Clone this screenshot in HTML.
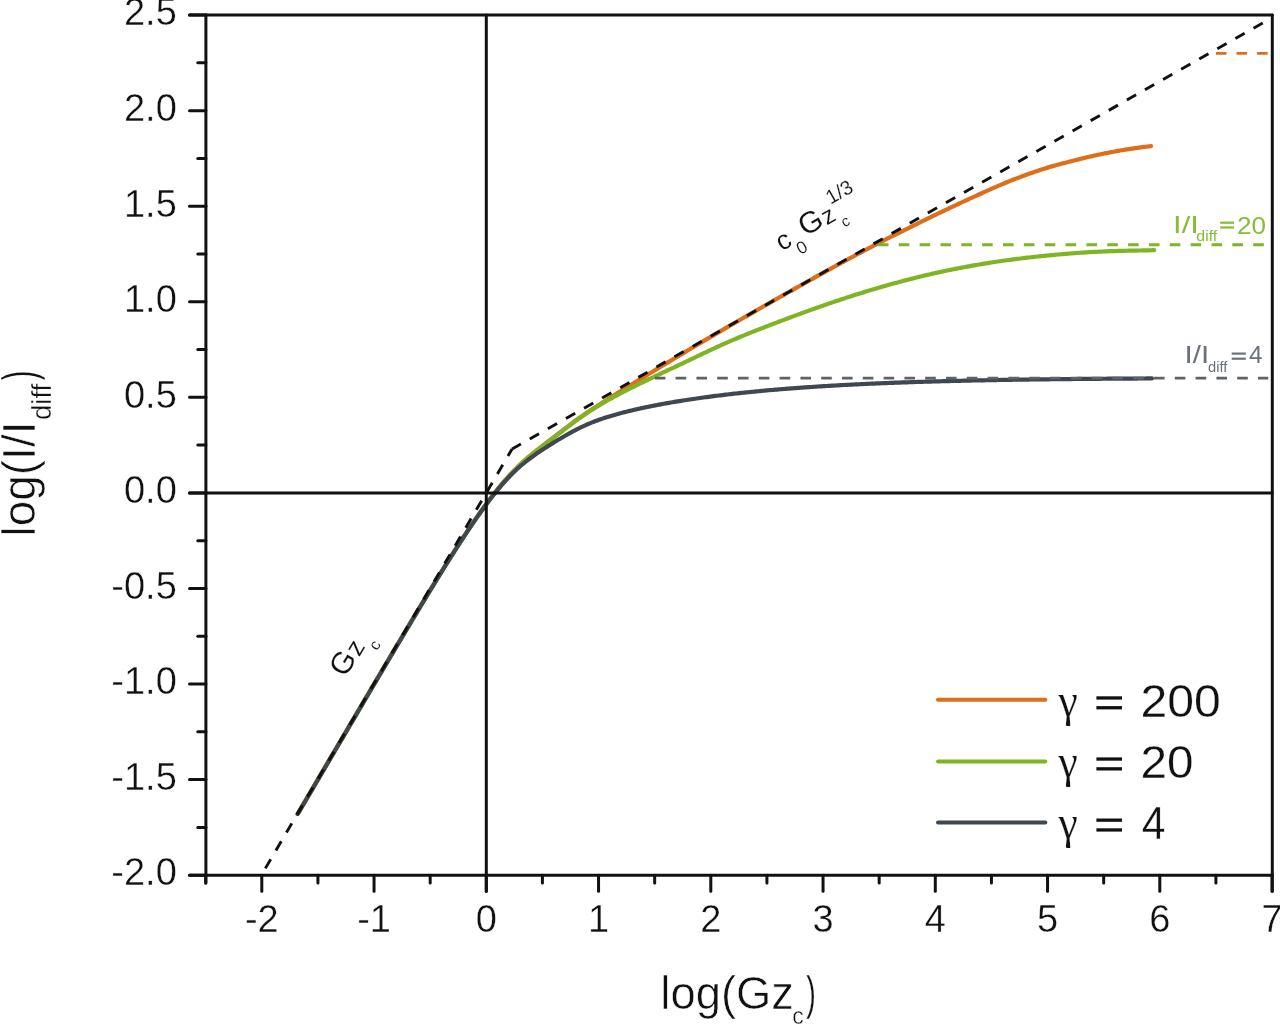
<!DOCTYPE html>
<html><head><meta charset="utf-8"><style>
html,body{margin:0;padding:0;background:#fff;width:1280px;height:1026px;overflow:hidden}
svg{display:block;filter:blur(0.55px)}
</style></head><body>
<svg width="1280" height="1026" viewBox="0 0 1280 1026">
<rect width="1280" height="1026" fill="#fff"/>
<path d="M297.72,813.64 L299.43,810.73 L301.14,807.82 L302.85,804.91 L304.56,802.00 L306.27,799.09 L307.98,796.18 L309.69,793.27 L311.40,790.36 L313.11,787.46 L314.82,784.55 L316.53,781.64 L318.24,778.73 L319.95,775.82 L321.66,772.91 L323.37,770.00 L325.08,767.09 L326.79,764.19 L328.50,761.28 L330.21,758.37 L331.92,755.46 L333.63,752.56 L335.34,749.65 L337.05,746.74 L338.76,743.83 L340.47,740.93 L342.18,738.02 L343.89,735.12 L345.60,732.21 L347.31,729.31 L349.02,726.40 L350.73,723.50 L352.44,720.60 L354.15,717.69 L355.86,714.79 L357.57,711.89 L359.28,708.99 L360.99,706.09 L362.70,703.18 L364.41,700.29 L366.12,697.39 L367.83,694.49 L369.54,691.59 L371.25,688.69 L372.96,685.80 L374.67,682.90 L376.38,680.01 L378.09,677.12 L379.80,674.22 L381.51,671.33 L383.22,668.44 L384.93,665.55 L386.64,662.67 L388.35,659.78 L390.06,656.90 L391.77,654.01 L393.48,651.13 L395.19,648.25 L396.90,645.38 L398.61,642.50 L400.32,639.63 L402.03,636.76 L403.74,633.89 L405.45,631.02 L407.16,628.16 L408.87,625.30 L410.58,622.44 L412.29,619.59 L414.00,616.73 L415.71,613.89 L417.42,611.04 L419.13,608.20 L420.84,605.37 L422.56,602.53 L424.27,599.71 L425.98,596.88 L427.69,594.07 L429.40,591.25 L431.11,588.45 L432.82,585.65 L434.53,582.85 L436.24,580.07 L437.95,577.29 L439.66,574.51 L441.37,571.75 L443.08,568.99 L444.79,566.25 L446.50,563.51 L448.21,560.78 L449.92,558.06 L451.63,555.35 L453.34,552.66 L455.05,549.97 L456.76,547.30 L458.47,544.64 L460.18,541.99 L461.89,539.36 L463.60,536.75 L465.31,534.14 L467.02,531.56 L468.73,528.99 L470.44,526.44 L472.15,523.91 L473.86,521.40 L475.57,518.91 L477.28,516.45 L478.99,514.00 L480.70,511.58 L482.41,509.18 L484.12,506.81 L485.83,504.46 L487.54,502.14 L489.25,499.85 L490.96,497.59 L492.67,495.36 L494.38,493.16 L496.09,491.00 L497.80,488.87 L499.51,486.77 L501.22,484.71 L502.93,482.69 L504.64,480.71 L506.35,478.76 L508.06,476.86 L509.77,474.99 L511.48,473.16 L513.19,471.37 L514.90,469.62 L516.61,467.91 L518.32,466.24 L520.03,464.61 L521.74,463.01 L523.45,461.45 L525.16,459.92 L526.87,458.42 L528.58,456.95 L530.29,455.51 L532.00,454.10 L533.71,452.70 L535.42,451.33 L537.13,449.97 L538.84,448.63 L540.55,447.29 L542.26,445.97 L543.97,444.66 L545.68,443.35 L547.39,442.04 L549.10,440.74 L550.81,439.43 L552.52,438.13 L554.23,436.82 L555.94,435.52 L557.65,434.21 L559.36,432.90 L561.07,431.60 L562.78,430.29 L564.49,428.98 L566.20,427.68 L567.91,426.38 L569.62,425.09 L571.33,423.81 L573.04,422.53 L574.75,421.27 L576.46,420.02 L578.17,418.78 L579.88,417.56 L581.59,416.35 L583.30,415.15 L585.01,413.98 L586.72,412.82 L588.43,411.68 L590.14,410.55 L591.85,409.45 L593.56,408.36 L595.27,407.29 L596.98,406.24 L598.69,405.10 L600.40,403.98 L602.11,402.86 L603.82,401.75 L605.53,400.66 L607.24,399.56 L608.95,398.48 L610.66,397.40 L612.37,396.33 L614.08,395.26 L615.79,394.20 L617.50,393.14 L619.21,392.08 L620.92,391.03 L622.63,389.97 L624.34,388.92 L626.05,387.88 L627.76,386.83 L629.47,385.78 L631.18,384.74 L632.89,383.69 L634.60,382.65 L636.31,381.60 L638.02,380.56 L639.73,379.52 L641.44,378.47 L643.15,377.43 L644.86,376.39 L646.57,375.35 L648.28,374.31 L649.99,373.26 L651.70,372.22 L653.41,371.18 L655.12,370.14 L656.83,369.10 L658.54,368.06 L660.25,367.03 L661.96,365.99 L663.67,364.95 L665.38,363.92 L667.09,362.88 L668.81,361.85 L670.52,360.81 L672.23,359.78 L673.94,358.75 L675.65,357.72 L677.36,356.69 L679.07,355.66 L680.78,354.64 L682.49,353.61 L684.20,352.59 L685.91,351.56 L687.62,350.54 L689.33,349.52 L691.04,348.50 L692.75,347.49 L694.46,346.47 L696.17,345.45 L697.88,344.44 L699.59,343.43 L701.30,342.42 L703.01,341.41 L704.72,340.40 L706.43,339.39 L708.14,338.39 L709.85,337.39 L711.56,336.38 L713.27,335.38 L714.98,334.38 L716.69,333.38 L718.40,332.38 L720.11,331.39 L721.82,330.39 L723.53,329.40 L725.24,328.40 L726.95,327.41 L728.66,326.42 L730.37,325.43 L732.08,324.44 L733.79,323.45 L735.50,322.47 L737.21,321.48 L738.92,320.49 L740.63,319.51 L742.34,318.53 L744.05,317.54 L745.76,316.56 L747.47,315.58 L749.18,314.60 L750.89,313.62 L752.60,312.64 L754.31,311.66 L756.02,310.68 L757.73,309.70 L759.44,308.72 L761.15,307.74 L762.86,306.77 L764.57,305.79 L766.28,304.82 L767.99,303.84 L769.70,302.87 L771.41,301.89 L773.12,300.92 L774.83,299.95 L776.54,298.98 L778.25,298.01 L779.96,297.04 L781.67,296.08 L783.38,295.11 L785.09,294.15 L786.80,293.18 L788.51,292.22 L790.22,291.26 L791.93,290.30 L793.64,289.34 L795.35,288.38 L797.06,287.42 L798.77,286.46 L800.48,285.51 L802.19,284.55 L803.90,283.59 L805.61,282.64 L807.32,281.68 L809.03,280.73 L810.74,279.77 L812.45,278.82 L814.16,277.86 L815.87,276.91 L817.58,275.96 L819.29,275.01 L821.00,274.05 L822.71,273.10 L824.42,272.15 L826.13,271.20 L827.84,270.26 L829.55,269.31 L831.26,268.37 L832.97,267.43 L834.68,266.50 L836.39,265.56 L838.10,264.63 L839.81,263.70 L841.52,262.77 L843.23,261.85 L844.94,260.92 L846.65,260.00 L848.36,259.08 L850.07,258.16 L851.78,257.25 L853.49,256.33 L855.20,255.42 L856.91,254.51 L858.62,253.60 L860.33,252.69 L862.04,251.79 L863.75,250.88 L865.46,249.98 L867.17,249.08 L868.88,248.17 L870.59,247.27 L872.30,246.38 L874.01,245.48 L875.72,244.58 L877.43,243.69 L879.14,242.79 L880.85,241.90 L882.56,241.02 L884.27,240.15 L885.98,239.29 L887.69,238.44 L889.40,237.59 L891.11,236.74 L892.82,235.90 L894.53,235.06 L896.24,234.22 L897.95,233.38 L899.66,232.53 L901.37,231.69 L903.08,230.84 L904.79,229.99 L906.50,229.13 L908.21,228.28 L909.92,227.43 L911.63,226.58 L913.34,225.73 L915.05,224.88 L916.77,224.03 L918.48,223.19 L920.19,222.34 L921.90,221.49 L923.61,220.65 L925.32,219.81 L927.03,218.97 L928.74,218.13 L930.45,217.29 L932.16,216.46 L933.87,215.63 L935.58,214.80 L937.29,213.97 L939.00,213.15 L940.71,212.33 L942.42,211.51 L944.13,210.69 L945.84,209.88 L947.55,209.07 L949.26,208.26 L950.97,207.45 L952.68,206.65 L954.39,205.84 L956.10,205.04 L957.81,204.24 L959.52,203.45 L961.23,202.65 L962.94,201.86 L964.65,201.07 L966.36,200.28 L968.07,199.49 L969.78,198.70 L971.49,197.91 L973.20,197.13 L974.91,196.34 L976.62,195.56 L978.33,194.78 L980.04,194.00 L981.75,193.22 L983.46,192.45 L985.17,191.67 L986.88,190.91 L988.59,190.14 L990.30,189.38 L992.01,188.62 L993.72,187.87 L995.43,187.12 L997.14,186.38 L998.85,185.64 L1000.56,184.91 L1002.27,184.18 L1003.98,183.46 L1005.69,182.75 L1007.40,182.04 L1009.11,181.35 L1010.82,180.66 L1012.53,179.98 L1014.24,179.31 L1015.95,178.65 L1017.66,177.99 L1019.37,177.34 L1021.08,176.70 L1022.79,176.07 L1024.50,175.44 L1026.21,174.82 L1027.92,174.20 L1029.63,173.60 L1031.34,172.99 L1033.05,172.40 L1034.76,171.81 L1036.47,171.22 L1038.18,170.64 L1039.89,170.07 L1041.60,169.50 L1043.31,168.95 L1045.02,168.41 L1046.73,167.88 L1048.44,167.37 L1050.15,166.86 L1051.86,166.37 L1053.57,165.89 L1055.28,165.41 L1056.99,164.95 L1058.70,164.49 L1060.41,164.04 L1062.12,163.59 L1063.83,163.15 L1065.54,162.71 L1067.25,162.27 L1068.96,161.83 L1070.67,161.40 L1072.38,160.97 L1074.09,160.53 L1075.80,160.09 L1077.51,159.66 L1079.22,159.23 L1080.93,158.80 L1082.64,158.38 L1084.35,157.96 L1086.06,157.54 L1087.77,157.14 L1089.48,156.73 L1091.19,156.34 L1092.90,155.95 L1094.61,155.56 L1096.32,155.19 L1098.03,154.82 L1099.74,154.46 L1101.45,154.11 L1103.16,153.76 L1104.87,153.42 L1106.58,153.08 L1108.29,152.75 L1110.00,152.42 L1111.71,152.09 L1113.42,151.78 L1115.13,151.46 L1116.84,151.15 L1118.55,150.85 L1120.26,150.55 L1121.97,150.26 L1123.68,149.97 L1125.39,149.68 L1127.10,149.40 L1128.81,149.13 L1130.52,148.86 L1132.23,148.60 L1133.94,148.35 L1135.65,148.10 L1137.36,147.85 L1139.07,147.61 L1140.78,147.38 L1142.49,147.15 L1144.20,146.93 L1145.91,146.71 L1147.62,146.50 L1149.33,146.30 L1151.04,146.10" fill="none" stroke="#DC6E1C" stroke-width="4.2" stroke-linecap="round" stroke-linejoin="round"/>
<path d="M297.72,814.03 L299.44,811.10 L301.15,808.18 L302.87,805.26 L304.59,802.34 L306.30,799.42 L308.02,796.50 L309.73,793.58 L311.45,790.66 L313.17,787.74 L314.88,784.82 L316.60,781.90 L318.32,778.98 L320.03,776.06 L321.75,773.14 L323.47,770.22 L325.18,767.30 L326.90,764.39 L328.61,761.47 L330.33,758.55 L332.05,755.63 L333.76,752.71 L335.48,749.79 L337.20,746.88 L338.91,743.96 L340.63,741.04 L342.35,738.13 L344.06,735.21 L345.78,732.29 L347.49,729.38 L349.21,726.46 L350.93,723.55 L352.64,720.64 L354.36,717.72 L356.08,714.81 L357.79,711.90 L359.51,708.98 L361.23,706.07 L362.94,703.16 L364.66,700.25 L366.37,697.34 L368.09,694.43 L369.81,691.52 L371.52,688.62 L373.24,685.71 L374.96,682.81 L376.67,679.90 L378.39,677.00 L380.11,674.09 L381.82,671.19 L383.54,668.29 L385.25,665.39 L386.97,662.50 L388.69,659.60 L390.40,656.71 L392.12,653.81 L393.84,650.92 L395.55,648.03 L397.27,645.15 L398.99,642.26 L400.70,639.38 L402.42,636.50 L404.13,633.62 L405.85,630.74 L407.57,627.87 L409.28,625.00 L411.00,622.13 L412.72,619.26 L414.43,616.40 L416.15,613.55 L417.87,610.69 L419.58,607.84 L421.30,605.00 L423.01,602.16 L424.73,599.32 L426.45,596.49 L428.16,593.66 L429.88,590.84 L431.60,588.03 L433.31,585.22 L435.03,582.41 L436.75,579.62 L438.46,576.83 L440.18,574.05 L441.89,571.28 L443.61,568.51 L445.33,565.76 L447.04,563.01 L448.76,560.28 L450.48,557.55 L452.19,554.84 L453.91,552.14 L455.63,549.45 L457.34,546.77 L459.06,544.10 L460.77,541.45 L462.49,538.82 L464.21,536.20 L465.92,533.59 L467.64,531.00 L469.36,528.43 L471.07,525.88 L472.79,523.35 L474.51,520.84 L476.22,518.35 L477.94,515.88 L479.65,513.43 L481.37,511.01 L483.09,508.61 L484.80,506.24 L486.52,503.90 L488.24,501.58 L489.95,499.30 L491.67,497.04 L493.39,494.82 L495.10,492.62 L496.82,490.47 L498.54,488.34 L500.25,486.26 L501.97,484.21 L503.68,482.19 L505.40,480.22 L507.12,478.28 L508.83,476.39 L510.55,474.53 L512.27,472.72 L513.98,470.94 L515.70,469.20 L517.42,467.50 L519.13,465.84 L520.85,464.22 L522.56,462.64 L524.28,461.08 L526.00,459.57 L527.71,458.08 L529.43,456.62 L531.15,455.18 L532.86,453.77 L534.58,452.38 L536.30,451.01 L538.01,449.66 L539.73,448.31 L541.44,446.98 L543.16,445.66 L544.88,444.34 L546.59,443.03 L548.31,441.72 L550.03,440.41 L551.74,439.10 L553.46,437.80 L555.18,436.48 L556.89,435.17 L558.61,433.86 L560.32,432.55 L562.04,431.24 L563.76,429.93 L565.47,428.62 L567.19,427.31 L568.91,426.01 L570.62,424.72 L572.34,423.44 L574.06,422.17 L575.77,420.90 L577.49,419.66 L579.20,418.42 L580.92,417.20 L582.64,416.00 L584.35,414.81 L586.07,413.64 L587.79,412.49 L589.50,411.35 L591.22,410.24 L592.94,409.14 L594.65,408.06 L596.37,406.99 L598.08,405.95 L599.80,404.92 L601.52,403.90 L603.23,402.90 L604.95,401.91 L606.67,400.93 L608.38,399.97 L610.10,399.02 L611.82,398.07 L613.53,397.14 L615.25,396.22 L616.96,395.30 L618.68,394.40 L620.40,393.50 L622.11,392.60 L623.83,391.71 L625.55,390.83 L627.26,389.96 L628.98,389.09 L630.70,388.22 L632.41,387.36 L634.13,386.50 L635.84,385.65 L637.56,384.79 L639.28,383.95 L640.99,383.10 L642.71,382.26 L644.43,381.43 L646.14,380.59 L647.86,379.76 L649.58,378.93 L651.29,378.10 L653.01,377.28 L654.72,376.46 L656.44,375.64 L658.16,374.82 L659.87,374.01 L661.59,373.19 L663.31,372.38 L665.02,371.57 L666.74,370.77 L668.46,369.96 L670.17,369.16 L671.89,368.36 L673.60,367.56 L675.32,366.76 L677.04,365.97 L678.75,365.17 L680.47,364.37 L682.19,363.56 L683.90,362.74 L685.62,361.93 L687.34,361.11 L689.05,360.28 L690.77,359.46 L692.48,358.63 L694.20,357.81 L695.92,356.98 L697.63,356.16 L699.35,355.34 L701.07,354.52 L702.78,353.70 L704.50,352.88 L706.22,352.07 L707.93,351.26 L709.65,350.45 L711.36,349.65 L713.08,348.85 L714.80,348.06 L716.51,347.27 L718.23,346.49 L719.95,345.71 L721.66,344.94 L723.38,344.17 L725.10,343.41 L726.81,342.65 L728.53,341.90 L730.24,341.15 L731.96,340.41 L733.68,339.68 L735.39,338.95 L737.11,338.22 L738.83,337.50 L740.54,336.79 L742.26,336.08 L743.98,335.37 L745.69,334.67 L747.41,333.98 L749.12,333.29 L750.84,332.60 L752.56,331.92 L754.27,331.24 L755.99,330.57 L757.71,329.89 L759.42,329.22 L761.14,328.55 L762.86,327.88 L764.57,327.22 L766.29,326.55 L768.00,325.89 L769.72,325.23 L771.44,324.57 L773.15,323.91 L774.87,323.25 L776.59,322.60 L778.30,321.94 L780.02,321.29 L781.74,320.64 L783.45,320.00 L785.17,319.35 L786.88,318.71 L788.60,318.06 L790.32,317.42 L792.03,316.79 L793.75,316.15 L795.47,315.52 L797.18,314.88 L798.90,314.25 L800.62,313.63 L802.33,313.00 L804.05,312.38 L805.76,311.75 L807.48,311.13 L809.20,310.52 L810.91,309.90 L812.63,309.29 L814.35,308.68 L816.06,308.07 L817.78,307.47 L819.50,306.86 L821.21,306.26 L822.93,305.66 L824.64,305.07 L826.36,304.48 L828.08,303.88 L829.79,303.30 L831.51,302.71 L833.23,302.13 L834.94,301.55 L836.66,300.97 L838.38,300.40 L840.09,299.82 L841.81,299.25 L843.52,298.69 L845.24,298.12 L846.96,297.56 L848.67,297.01 L850.39,296.45 L852.11,295.90 L853.82,295.35 L855.54,294.80 L857.26,294.26 L858.97,293.72 L860.69,293.18 L862.40,292.65 L864.12,292.12 L865.84,291.59 L867.55,291.06 L869.27,290.54 L870.99,290.02 L872.70,289.51 L874.42,289.00 L876.14,288.49 L877.85,287.98 L879.57,287.48 L881.29,286.98 L883.00,286.49 L884.72,286.00 L886.43,285.51 L888.15,285.02 L889.87,284.54 L891.58,284.06 L893.30,283.59 L895.02,283.12 L896.73,282.65 L898.45,282.19 L900.17,281.73 L901.88,281.27 L903.60,280.82 L905.31,280.37 L907.03,279.92 L908.75,279.48 L910.46,279.04 L912.18,278.60 L913.90,278.17 L915.61,277.74 L917.33,277.32 L919.05,276.90 L920.76,276.48 L922.48,276.07 L924.19,275.66 L925.91,275.25 L927.63,274.85 L929.34,274.45 L931.06,274.06 L932.78,273.67 L934.49,273.28 L936.21,272.89 L937.93,272.51 L939.64,272.14 L941.36,271.77 L943.07,271.40 L944.79,271.03 L946.51,270.67 L948.22,270.31 L949.94,269.96 L951.66,269.61 L953.37,269.26 L955.09,268.92 L956.81,268.58 L958.52,268.24 L960.24,267.91 L961.95,267.58 L963.67,267.26 L965.39,266.94 L967.10,266.62 L968.82,266.31 L970.54,266.00 L972.25,265.69 L973.97,265.39 L975.69,265.09 L977.40,264.79 L979.12,264.50 L980.83,264.21 L982.55,263.93 L984.27,263.65 L985.98,263.37 L987.70,263.09 L989.42,262.82 L991.13,262.55 L992.85,262.29 L994.57,262.03 L996.28,261.77 L998.00,261.52 L999.71,261.27 L1001.43,261.02 L1003.15,260.77 L1004.86,260.53 L1006.58,260.29 L1008.30,260.06 L1010.01,259.83 L1011.73,259.60 L1013.45,259.37 L1015.16,259.15 L1016.88,258.93 L1018.59,258.72 L1020.31,258.50 L1022.03,258.29 L1023.74,258.08 L1025.46,257.88 L1027.18,257.68 L1028.89,257.48 L1030.61,257.28 L1032.33,257.09 L1034.04,256.90 L1035.76,256.72 L1037.47,256.53 L1039.19,256.35 L1040.91,256.17 L1042.62,255.99 L1044.34,255.82 L1046.06,255.65 L1047.77,255.48 L1049.49,255.32 L1051.21,255.15 L1052.92,254.99 L1054.64,254.83 L1056.35,254.68 L1058.07,254.53 L1059.79,254.37 L1061.50,254.23 L1063.22,254.08 L1064.94,253.94 L1066.65,253.80 L1068.37,253.66 L1070.09,253.52 L1071.80,253.39 L1073.52,253.26 L1075.23,253.13 L1076.95,253.01 L1078.67,252.89 L1080.38,252.77 L1082.10,252.65 L1083.82,252.54 L1085.53,252.43 L1087.25,252.32 L1088.97,252.21 L1090.68,252.11 L1092.40,252.01 L1094.11,251.92 L1095.83,251.83 L1097.55,251.74 L1099.26,251.65 L1100.98,251.57 L1102.70,251.50 L1104.41,251.42 L1106.13,251.35 L1107.85,251.28 L1109.56,251.22 L1111.28,251.16 L1112.99,251.11 L1114.71,251.05 L1116.43,251.00 L1118.14,250.96 L1119.86,250.91 L1121.58,250.87 L1123.29,250.83 L1125.01,250.79 L1126.73,250.76 L1128.44,250.72 L1130.16,250.69 L1131.87,250.66 L1133.59,250.62 L1135.31,250.59 L1137.02,250.56 L1138.74,250.52 L1140.46,250.49 L1142.17,250.45 L1143.89,250.41 L1145.61,250.37 L1147.32,250.32 L1149.04,250.28 L1150.75,250.23 L1152.47,250.17 L1154.19,250.12" fill="none" stroke="#7FB524" stroke-width="4.2" stroke-linecap="round" stroke-linejoin="round"/>
<path d="M297.72,814.03 L299.43,811.11 L301.14,808.20 L302.86,805.29 L304.57,802.37 L306.28,799.46 L307.99,796.55 L309.70,793.63 L311.41,790.72 L313.13,787.81 L314.84,784.90 L316.55,781.99 L318.26,779.07 L319.97,776.16 L321.69,773.25 L323.40,770.34 L325.11,767.43 L326.82,764.52 L328.53,761.60 L330.25,758.69 L331.96,755.78 L333.67,752.87 L335.38,749.96 L337.09,747.05 L338.80,744.14 L340.52,741.23 L342.23,738.33 L343.94,735.42 L345.65,732.51 L347.36,729.60 L349.08,726.69 L350.79,723.79 L352.50,720.88 L354.21,717.97 L355.92,715.07 L357.64,712.16 L359.35,709.26 L361.06,706.35 L362.77,703.45 L364.48,700.55 L366.19,697.65 L367.91,694.75 L369.62,691.84 L371.33,688.94 L373.04,686.05 L374.75,683.15 L376.47,680.25 L378.18,677.35 L379.89,674.46 L381.60,671.57 L383.31,668.67 L385.03,665.78 L386.74,662.89 L388.45,660.00 L390.16,657.12 L391.87,654.23 L393.58,651.35 L395.30,648.46 L397.01,645.58 L398.72,642.71 L400.43,639.83 L402.14,636.96 L403.86,634.08 L405.57,631.22 L407.28,628.35 L408.99,625.49 L410.70,622.62 L412.42,619.77 L414.13,616.91 L415.84,614.06 L417.55,611.22 L419.26,608.37 L420.97,605.53 L422.69,602.70 L424.40,599.87 L426.11,597.04 L427.82,594.22 L429.53,591.41 L431.25,588.60 L432.96,585.80 L434.67,583.00 L436.38,580.21 L438.09,577.43 L439.81,574.66 L441.52,571.89 L443.23,569.13 L444.94,566.38 L446.65,563.64 L448.36,560.91 L450.08,558.19 L451.79,555.48 L453.50,552.79 L455.21,550.10 L456.92,547.43 L458.64,544.77 L460.35,542.13 L462.06,539.50 L463.77,536.88 L465.48,534.29 L467.20,531.71 L468.91,529.14 L470.62,526.60 L472.33,524.08 L474.04,521.58 L475.75,519.10 L477.47,516.64 L479.18,514.21 L480.89,511.80 L482.60,509.42 L484.31,507.07 L486.03,504.75 L487.74,502.45 L489.45,500.19 L491.16,497.96 L492.87,495.77 L494.58,493.61 L496.30,491.49 L498.01,489.41 L499.72,487.37 L501.43,485.37 L503.14,483.41 L504.86,481.49 L506.57,479.62 L508.28,477.79 L509.99,476.00 L511.70,474.27 L513.42,472.57 L515.13,470.92 L516.84,469.32 L518.55,467.76 L520.26,466.24 L521.97,464.77 L523.69,463.33 L525.40,461.94 L527.11,460.58 L528.82,459.26 L530.53,457.96 L532.25,456.70 L533.96,455.47 L535.67,454.27 L537.38,453.08 L539.09,451.92 L540.81,450.78 L542.52,449.65 L544.23,448.54 L545.94,447.43 L547.65,446.35 L549.36,445.27 L551.08,444.20 L552.79,443.14 L554.50,442.08 L556.21,441.04 L557.92,440.00 L559.64,438.98 L561.35,437.96 L563.06,436.95 L564.77,435.96 L566.48,434.97 L568.20,434.01 L569.91,433.05 L571.62,432.11 L573.33,431.19 L575.04,430.29 L576.75,429.41 L578.47,428.54 L580.18,427.70 L581.89,426.88 L583.60,426.08 L585.31,425.30 L587.03,424.54 L588.74,423.80 L590.45,423.09 L592.16,422.39 L593.87,421.72 L595.59,421.06 L597.30,420.42 L599.01,419.80 L600.72,419.20 L602.43,418.62 L604.14,418.04 L605.86,417.49 L607.57,416.95 L609.28,416.42 L610.99,415.90 L612.70,415.40 L614.42,414.90 L616.13,414.42 L617.84,413.95 L619.55,413.48 L621.26,413.03 L622.98,412.58 L624.69,412.14 L626.40,411.71 L628.11,411.29 L629.82,410.87 L631.53,410.46 L633.25,410.06 L634.96,409.66 L636.67,409.27 L638.38,408.89 L640.09,408.51 L641.81,408.14 L643.52,407.77 L645.23,407.40 L646.94,407.05 L648.65,406.69 L650.36,406.35 L652.08,406.00 L653.79,405.66 L655.50,405.33 L657.21,405.00 L658.92,404.68 L660.64,404.35 L662.35,404.04 L664.06,403.73 L665.77,403.42 L667.48,403.11 L669.20,402.81 L670.91,402.51 L672.62,402.22 L674.33,401.93 L676.04,401.65 L677.75,401.36 L679.47,401.08 L681.18,400.81 L682.89,400.54 L684.60,400.27 L686.31,400.00 L688.03,399.74 L689.74,399.48 L691.45,399.22 L693.16,398.97 L694.87,398.72 L696.59,398.47 L698.30,398.23 L700.01,397.99 L701.72,397.75 L703.43,397.51 L705.14,397.28 L706.86,397.05 L708.57,396.82 L710.28,396.59 L711.99,396.37 L713.70,396.15 L715.42,395.93 L717.13,395.72 L718.84,395.51 L720.55,395.30 L722.26,395.09 L723.98,394.88 L725.69,394.68 L727.40,394.48 L729.11,394.28 L730.82,394.08 L732.53,393.89 L734.25,393.70 L735.96,393.51 L737.67,393.32 L739.38,393.14 L741.09,392.95 L742.81,392.77 L744.52,392.59 L746.23,392.41 L747.94,392.24 L749.65,392.07 L751.37,391.89 L753.08,391.72 L754.79,391.56 L756.50,391.39 L758.21,391.23 L759.92,391.07 L761.64,390.91 L763.35,390.75 L765.06,390.59 L766.77,390.44 L768.48,390.28 L770.20,390.13 L771.91,389.98 L773.62,389.83 L775.33,389.69 L777.04,389.54 L778.76,389.40 L780.47,389.26 L782.18,389.12 L783.89,388.98 L785.60,388.84 L787.31,388.71 L789.03,388.57 L790.74,388.44 L792.45,388.31 L794.16,388.18 L795.87,388.05 L797.59,387.93 L799.30,387.80 L801.01,387.68 L802.72,387.56 L804.43,387.44 L806.15,387.32 L807.86,387.20 L809.57,387.09 L811.28,386.97 L812.99,386.86 L814.70,386.74 L816.42,386.63 L818.13,386.52 L819.84,386.41 L821.55,386.31 L823.26,386.20 L824.98,386.10 L826.69,385.99 L828.40,385.89 L830.11,385.79 L831.82,385.69 L833.53,385.59 L835.25,385.49 L836.96,385.40 L838.67,385.30 L840.38,385.21 L842.09,385.11 L843.81,385.02 L845.52,384.93 L847.23,384.84 L848.94,384.75 L850.65,384.67 L852.37,384.58 L854.08,384.49 L855.79,384.41 L857.50,384.32 L859.21,384.24 L860.92,384.16 L862.64,384.08 L864.35,384.00 L866.06,383.92 L867.77,383.84 L869.48,383.77 L871.20,383.69 L872.91,383.62 L874.62,383.54 L876.33,383.47 L878.04,383.40 L879.76,383.32 L881.47,383.25 L883.18,383.18 L884.89,383.11 L886.60,383.05 L888.31,382.98 L890.03,382.91 L891.74,382.85 L893.45,382.78 L895.16,382.72 L896.87,382.65 L898.59,382.59 L900.30,382.53 L902.01,382.47 L903.72,382.41 L905.43,382.35 L907.15,382.29 L908.86,382.23 L910.57,382.17 L912.28,382.12 L913.99,382.06 L915.70,382.01 L917.42,381.95 L919.13,381.90 L920.84,381.84 L922.55,381.79 L924.26,381.74 L925.98,381.69 L927.69,381.64 L929.40,381.59 L931.11,381.54 L932.82,381.49 L934.54,381.44 L936.25,381.39 L937.96,381.35 L939.67,381.30 L941.38,381.25 L943.09,381.21 L944.81,381.16 L946.52,381.12 L948.23,381.08 L949.94,381.03 L951.65,380.99 L953.37,380.95 L955.08,380.91 L956.79,380.87 L958.50,380.83 L960.21,380.79 L961.93,380.75 L963.64,380.71 L965.35,380.67 L967.06,380.63 L968.77,380.59 L970.48,380.56 L972.20,380.52 L973.91,380.48 L975.62,380.45 L977.33,380.41 L979.04,380.38 L980.76,380.34 L982.47,380.31 L984.18,380.28 L985.89,380.24 L987.60,380.21 L989.31,380.18 L991.03,380.15 L992.74,380.11 L994.45,380.08 L996.16,380.05 L997.87,380.02 L999.59,379.99 L1001.30,379.96 L1003.01,379.93 L1004.72,379.90 L1006.43,379.88 L1008.15,379.85 L1009.86,379.82 L1011.57,379.79 L1013.28,379.77 L1014.99,379.74 L1016.70,379.71 L1018.42,379.69 L1020.13,379.66 L1021.84,379.64 L1023.55,379.61 L1025.26,379.59 L1026.98,379.56 L1028.69,379.54 L1030.40,379.52 L1032.11,379.49 L1033.82,379.47 L1035.54,379.45 L1037.25,379.42 L1038.96,379.40 L1040.67,379.38 L1042.38,379.36 L1044.09,379.34 L1045.81,379.32 L1047.52,379.30 L1049.23,379.28 L1050.94,379.26 L1052.65,379.24 L1054.37,379.22 L1056.08,379.20 L1057.79,379.18 L1059.50,379.16 L1061.21,379.14 L1062.93,379.12 L1064.64,379.10 L1066.35,379.09 L1068.06,379.07 L1069.77,379.05 L1071.48,379.03 L1073.20,379.02 L1074.91,379.00 L1076.62,378.98 L1078.33,378.97 L1080.04,378.95 L1081.76,378.94 L1083.47,378.92 L1085.18,378.90 L1086.89,378.89 L1088.60,378.87 L1090.32,378.86 L1092.03,378.85 L1093.74,378.83 L1095.45,378.82 L1097.16,378.80 L1098.87,378.79 L1100.59,378.78 L1102.30,378.76 L1104.01,378.75 L1105.72,378.74 L1107.43,378.72 L1109.15,378.71 L1110.86,378.70 L1112.57,378.68 L1114.28,378.67 L1115.99,378.66 L1117.71,378.65 L1119.42,378.64 L1121.13,378.63 L1122.84,378.61 L1124.55,378.60 L1126.26,378.59 L1127.98,378.58 L1129.69,378.57 L1131.40,378.56 L1133.11,378.55 L1134.82,378.54 L1136.54,378.53 L1138.25,378.52 L1139.96,378.51 L1141.67,378.50 L1143.38,378.49 L1145.10,378.48 L1146.81,378.47 L1148.52,378.46 L1150.23,378.45 L1151.94,378.44" fill="none" stroke="#3F4751" stroke-width="4.2" stroke-linecap="round" stroke-linejoin="round"/>
<path d="M265.04,868.88 L512.06,449.04" fill="none" stroke="#111" stroke-width="2.9" stroke-dasharray="10.6 10.2" stroke-dashoffset="-0.6" stroke-linecap="butt"/>
<path d="M512.06,449.04 L1265.32,21.51" fill="none" stroke="#111" stroke-width="2.9" stroke-dasharray="10.6 10.205" stroke-dashoffset="0.445" stroke-linecap="butt"/>
<line x1="1215.9" y1="53.4" x2="1268.0" y2="53.4" stroke="#DC6E1C" stroke-width="2.9" stroke-dasharray="10.6 10.00"/>
<line x1="877.9" y1="244.7" x2="1264.2" y2="244.7" stroke="#7FB524" stroke-width="2.9" stroke-dasharray="10.6 10.25"/>
<line x1="654.8" y1="378.1" x2="1268.3" y2="378.1" stroke="#5E636A" stroke-width="2.9" stroke-dasharray="10.6 10.20"/>
<g stroke="#111" stroke-width="3.0" fill="none" stroke-linecap="round">
<line x1="205.9" y1="15.1" x2="205.9" y2="882.9"/>
<line x1="1272.3" y1="15.1" x2="1272.3" y2="891.3"/>
<line x1="189.5" y1="15.1" x2="1272.3" y2="15.1"/>
<line x1="189.5" y1="875.2" x2="1272.3" y2="875.2"/>
<line x1="486.3" y1="15.1" x2="486.3" y2="891.3"/>
<line x1="189.5" y1="492.9" x2="1272.3" y2="492.9"/>
<line x1="189.5" y1="875.16" x2="205.9" y2="875.16"/>
<line x1="197.8" y1="827.38" x2="205.9" y2="827.38"/>
<line x1="189.5" y1="779.60" x2="205.9" y2="779.60"/>
<line x1="197.8" y1="731.81" x2="205.9" y2="731.81"/>
<line x1="189.5" y1="684.03" x2="205.9" y2="684.03"/>
<line x1="197.8" y1="636.25" x2="205.9" y2="636.25"/>
<line x1="189.5" y1="588.46" x2="205.9" y2="588.46"/>
<line x1="197.8" y1="540.68" x2="205.9" y2="540.68"/>
<line x1="189.5" y1="492.90" x2="205.9" y2="492.90"/>
<line x1="197.8" y1="445.12" x2="205.9" y2="445.12"/>
<line x1="189.5" y1="397.33" x2="205.9" y2="397.33"/>
<line x1="197.8" y1="349.55" x2="205.9" y2="349.55"/>
<line x1="189.5" y1="301.77" x2="205.9" y2="301.77"/>
<line x1="197.8" y1="253.99" x2="205.9" y2="253.99"/>
<line x1="189.5" y1="206.20" x2="205.9" y2="206.20"/>
<line x1="197.8" y1="158.42" x2="205.9" y2="158.42"/>
<line x1="189.5" y1="110.64" x2="205.9" y2="110.64"/>
<line x1="197.8" y1="62.86" x2="205.9" y2="62.86"/>
<line x1="189.5" y1="15.07" x2="205.9" y2="15.07"/>
<line x1="205.68" y1="875.2" x2="205.68" y2="882.9"/>
<line x1="261.80" y1="875.2" x2="261.80" y2="891.3"/>
<line x1="317.93" y1="875.2" x2="317.93" y2="882.9"/>
<line x1="374.05" y1="875.2" x2="374.05" y2="891.3"/>
<line x1="430.18" y1="875.2" x2="430.18" y2="882.9"/>
<line x1="486.30" y1="875.2" x2="486.30" y2="891.3"/>
<line x1="542.42" y1="875.2" x2="542.42" y2="882.9"/>
<line x1="598.55" y1="875.2" x2="598.55" y2="891.3"/>
<line x1="654.67" y1="875.2" x2="654.67" y2="882.9"/>
<line x1="710.80" y1="875.2" x2="710.80" y2="891.3"/>
<line x1="766.92" y1="875.2" x2="766.92" y2="882.9"/>
<line x1="823.05" y1="875.2" x2="823.05" y2="891.3"/>
<line x1="879.17" y1="875.2" x2="879.17" y2="882.9"/>
<line x1="935.30" y1="875.2" x2="935.30" y2="891.3"/>
<line x1="991.42" y1="875.2" x2="991.42" y2="882.9"/>
<line x1="1047.55" y1="875.2" x2="1047.55" y2="891.3"/>
<line x1="1103.67" y1="875.2" x2="1103.67" y2="882.9"/>
<line x1="1159.80" y1="875.2" x2="1159.80" y2="891.3"/>
<line x1="1215.92" y1="875.2" x2="1215.92" y2="882.9"/>
<line x1="1272.05" y1="875.2" x2="1272.05" y2="891.3"/>
</g>
<g font-family="&quot;Liberation Sans&quot;, sans-serif" font-size="38" fill="#111" stroke="#fff" stroke-width="0.35">
<text x="176.8" y="885.46" text-anchor="end">-2.0</text>
<text x="176.8" y="789.89" text-anchor="end">-1.5</text>
<text x="176.8" y="694.33" text-anchor="end">-1.0</text>
<text x="176.8" y="598.76" text-anchor="end">-0.5</text>
<text x="176.8" y="503.20" text-anchor="end">0.0</text>
<text x="176.8" y="407.63" text-anchor="end">0.5</text>
<text x="176.8" y="312.07" text-anchor="end">1.0</text>
<text x="176.8" y="216.50" text-anchor="end">1.5</text>
<text x="176.8" y="120.94" text-anchor="end">2.0</text>
<text x="176.8" y="25.37" text-anchor="end">2.5</text>
<text x="261.80" y="932.3" text-anchor="middle">-2</text>
<text x="374.05" y="932.3" text-anchor="middle">-1</text>
<text x="486.30" y="932.3" text-anchor="middle">0</text>
<text x="598.55" y="932.3" text-anchor="middle">1</text>
<text x="710.80" y="932.3" text-anchor="middle">2</text>
<text x="823.05" y="932.3" text-anchor="middle">3</text>
<text x="935.30" y="932.3" text-anchor="middle">4</text>
<text x="1047.55" y="932.3" text-anchor="middle">5</text>
<text x="1159.80" y="932.3" text-anchor="middle">6</text>
<text x="1272.05" y="932.3" text-anchor="middle">7</text>
</g>
<text transform="translate(660.36,1009.30) scale(0.9863,1)" font-family="&quot;Liberation Sans&quot;, sans-serif" font-size="46" fill="#111" stroke="#fff" stroke-width="0.6" >log(Gz</text>
<text transform="translate(792.13,1023.90)" font-family="&quot;Liberation Sans&quot;, sans-serif" font-size="23" fill="#111" stroke="#fff" stroke-width="0.36" >c</text>
<text transform="translate(806.33,1009.30) scale(0.6235,1)" font-family="&quot;Liberation Sans&quot;, sans-serif" font-size="46" fill="#111" stroke="#fff" stroke-width="0.3" >)</text>
<text transform="translate(35.30,536.58) rotate(-90)" font-family="&quot;Liberation Sans&quot;, sans-serif" font-size="46" fill="#111" stroke="#fff" stroke-width="0.6">log(I/I</text>
<text transform="translate(50.90,419.95) rotate(-90)" font-family="&quot;Liberation Sans&quot;, sans-serif" font-size="27.5" fill="#111" stroke="#fff" stroke-width="0.36">diff</text>
<text transform="translate(35.30,380.37) rotate(-90) scale(0.6235,1)" font-family="&quot;Liberation Sans&quot;, sans-serif" font-size="46" fill="#111" stroke="#fff" stroke-width="0.3">)</text>
<line x1="938" y1="699.85" x2="1045.3" y2="699.85" stroke="#DC6E1C" stroke-width="4" stroke-linecap="round"/>
<text transform="translate(1058.44,715.70) scale(0.9472,1)" font-family="&quot;Liberation Serif&quot;, serif" font-size="46" fill="#111" stroke="#fff" stroke-width="0.18" >γ</text>
<rect x="1096.4" y="696.3" width="25.6" height="3.3" fill="#111"/>
<rect x="1096.4" y="706.1" width="25.6" height="3.3" fill="#111"/>
<text transform="translate(1140.39,716.50) scale(1.0351,1)" font-family="&quot;Liberation Sans&quot;, sans-serif" font-size="46.5" fill="#111" stroke="#fff" stroke-width="0.3" >200</text>
<line x1="938" y1="761.5" x2="1045.3" y2="761.5" stroke="#7FB524" stroke-width="4" stroke-linecap="round"/>
<text transform="translate(1058.44,776.80) scale(0.9472,1)" font-family="&quot;Liberation Serif&quot;, serif" font-size="46" fill="#111" stroke="#fff" stroke-width="0.18" >γ</text>
<rect x="1096.4" y="757.4" width="25.6" height="3.3" fill="#111"/>
<rect x="1096.4" y="767.2" width="25.6" height="3.3" fill="#111"/>
<text transform="translate(1140.42,777.60) scale(1.0248,1)" font-family="&quot;Liberation Sans&quot;, sans-serif" font-size="46.5" fill="#111" stroke="#fff" stroke-width="0.3" >20</text>
<line x1="938" y1="822.4" x2="1045.3" y2="822.4" stroke="#3F4751" stroke-width="4" stroke-linecap="round"/>
<text transform="translate(1058.44,837.90) scale(0.9472,1)" font-family="&quot;Liberation Serif&quot;, serif" font-size="46" fill="#111" stroke="#fff" stroke-width="0.18" >γ</text>
<rect x="1096.4" y="818.5" width="25.6" height="3.3" fill="#111"/>
<rect x="1096.4" y="828.3" width="25.6" height="3.3" fill="#111"/>
<text transform="translate(1141.82,838.70) scale(0.9174,1)" font-family="&quot;Liberation Sans&quot;, sans-serif" font-size="46.5" fill="#111" stroke="#fff" stroke-width="0.3" >4</text>
<text transform="translate(781.86,251.54) rotate(-29.58)" font-family="&quot;Liberation Sans&quot;, sans-serif" font-size="27" fill="#111" stroke="#fff" stroke-width="0.15">c</text>
<text transform="translate(800.44,254.94) rotate(-29.58)" font-family="&quot;Liberation Sans&quot;, sans-serif" font-size="17.5" fill="#111" stroke="#fff" stroke-width="0.15">0</text>
<text transform="translate(805.17,236.75) rotate(-29.58)" font-family="&quot;Liberation Sans&quot;, sans-serif" font-size="30" fill="#111" stroke="#fff" stroke-width="0.15">G</text>
<text transform="translate(826.86,225.59) rotate(-29.58)" font-family="&quot;Liberation Sans&quot;, sans-serif" font-size="24.5" fill="#111" stroke="#fff" stroke-width="0.15">z</text>
<text transform="translate(844.59,227.55) rotate(-29.58)" font-family="&quot;Liberation Sans&quot;, sans-serif" font-size="15" fill="#111" stroke="#fff" stroke-width="0.15">c</text>
<text transform="translate(830.56,204.64) rotate(-29.58)" font-family="&quot;Liberation Sans&quot;, sans-serif" font-size="20" fill="#111" stroke="#fff" stroke-width="0.15">1/3</text>
<text transform="translate(345.43,678.21) rotate(-59.58)" font-family="&quot;Liberation Sans&quot;, sans-serif" font-size="30.5" fill="#111" stroke="#fff" stroke-width="0.15">G</text>
<text transform="translate(359.19,657.58) rotate(-59.58)" font-family="&quot;Liberation Sans&quot;, sans-serif" font-size="26" fill="#111" stroke="#fff" stroke-width="0.15">z</text>
<text transform="translate(377.15,651.30) rotate(-59.58)" font-family="&quot;Liberation Sans&quot;, sans-serif" font-size="16" fill="#111" stroke="#fff" stroke-width="0.15">c</text>
<text transform="translate(1173.06,233.30) scale(1.3159,1)" font-family="&quot;Liberation Sans&quot;, sans-serif" font-size="23.5" fill="#86BD35" >I/I</text>
<text transform="translate(1196.33,240.80) scale(1.0562,1)" font-family="&quot;Liberation Sans&quot;, sans-serif" font-size="15" fill="#86BD35" >diff</text>
<rect x="1220.2" y="221.6" width="13.8" height="2.2" fill="#86BD35"/>
<rect x="1220.2" y="226.4" width="13.8" height="2.2" fill="#86BD35"/>
<text transform="translate(1237.00,233.50) scale(1.0653,1)" font-family="&quot;Liberation Sans&quot;, sans-serif" font-size="24.5" fill="#86BD35" >20</text>
<text transform="translate(1184.48,362.80) scale(1.2843,1)" font-family="&quot;Liberation Sans&quot;, sans-serif" font-size="23" fill="#6B7179" >I/I</text>
<text transform="translate(1208.08,372.20) scale(1.0532,1)" font-family="&quot;Liberation Sans&quot;, sans-serif" font-size="14" fill="#6B7179" >diff</text>
<rect x="1231.7" y="352.5" width="14.1" height="2.2" fill="#6B7179"/>
<rect x="1231.7" y="357.6" width="14.1" height="2.2" fill="#6B7179"/>
<text transform="translate(1248.94,362.80) scale(1.0524,1)" font-family="&quot;Liberation Sans&quot;, sans-serif" font-size="23" fill="#6B7179" >4</text>
</svg>
</body></html>
